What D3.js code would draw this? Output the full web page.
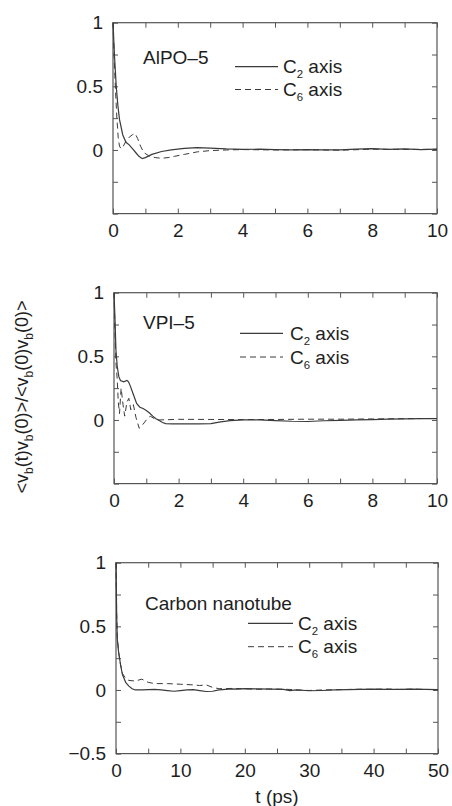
<!DOCTYPE html>
<html>
<head>
<meta charset="utf-8">
<script src="https://cdn.jsdelivr.net/npm/d3@7"></script>
<style>
  html, body { margin: 0; padding: 0; background: #fff; }
  svg { display: block; }
  text { font-family: "Liberation Sans", Arial, Helvetica, sans-serif; fill: #1e1e1e; }
</style>
</head>
<body>
<svg id="chart" width="452" height="806"></svg>
<script>
// ---- Velocity autocorrelation data (normalised), two orientations per host ----
// AlPO-5, t in ps
const alpoC2T = [0, 0.05, 0.1, 0.15, 0.2, 0.3, 0.4, 0.5, 0.6, 0.7, 0.8, 0.9, 1.0, 1.2, 1.5, 1.8, 2.2, 2.6, 3.0, 3.5, 4.0, 4.5, 5.0, 5.5, 6.0, 6.5, 7.0, 7.5, 8.0, 8.5, 9.0, 9.5, 10];
const alpoC2V = [1.0, 0.72, 0.5, 0.35, 0.24, 0.12, 0.06, 0.04, 0.01, -0.02, -0.05, -0.068, -0.06, -0.035, -0.012, 0.0, 0.012, 0.018, 0.015, 0.008, 0.004, 0.006, 0.002, 0.0, 0.003, 0.001, 0.0, 0.006, 0.01, 0.005, 0.008, 0.003, 0.006];
const alpoC6T = [0, 0.04, 0.08, 0.12, 0.16, 0.2, 0.25, 0.32, 0.4, 0.5, 0.6, 0.68, 0.76, 0.85, 0.95, 1.1, 1.3, 1.5, 1.7, 1.9, 2.2, 2.6, 3.0, 3.5, 4.0, 5.0, 6.0, 7.0, 8.0, 9.0, 10];
const alpoC6V = [1.0, 0.7, 0.45, 0.25, 0.1, 0.03, 0.01, 0.03, 0.07, 0.1, 0.12, 0.13, 0.09, 0.03, -0.02, -0.045, -0.06, -0.065, -0.06, -0.05, -0.035, -0.015, -0.005, 0.0, 0.003, 0.0, 0.002, -0.002, 0.006, 0.004, 0.005];

// VPI-5, t in ps
const vpiC2T = [0, 0.03, 0.06, 0.1, 0.15, 0.2, 0.3, 0.4, 0.45, 0.5, 0.6, 0.7, 0.8, 0.9, 1.0, 1.1, 1.2, 1.3, 1.4, 1.5, 1.6, 1.8, 2.2, 2.6, 3.0, 3.3, 3.6, 4.0, 4.5, 5.0, 5.5, 6.0, 6.5, 7.0, 7.5, 8.0, 8.5, 9.0, 9.5, 10];
const vpiC2V = [1.0, 0.8, 0.55, 0.42, 0.34, 0.31, 0.3, 0.31, 0.3, 0.27, 0.2, 0.13, 0.1, 0.09, 0.075, 0.055, 0.03, 0.01, -0.005, -0.02, -0.028, -0.03, -0.03, -0.03, -0.028, -0.015, -0.005, 0.0, 0.0, -0.005, -0.01, -0.012, -0.006, -0.003, 0.0, 0.003, 0.006, 0.008, 0.01, 0.01];
const vpiC6T = [0, 0.03, 0.06, 0.1, 0.13, 0.17, 0.22, 0.28, 0.33, 0.4, 0.46, 0.52, 0.6, 0.68, 0.78, 0.88, 1.0, 1.12, 1.25, 1.4, 2.0, 3.0, 4.0, 5.0, 6.0, 7.0, 8.0, 9.0, 10];
const vpiC6V = [1.0, 0.7, 0.45, 0.32, 0.15, 0.05, 0.25, 0.12, 0.03, 0.14, 0.17, 0.08, 0.12, 0.02, -0.065, -0.04, 0.0, 0.03, 0.01, 0.0, 0.005, 0.004, 0.003, 0.004, 0.006, 0.006, 0.008, 0.01, 0.012];

// Carbon nanotube, t in ps
const cntC2T = [0, 0.1, 0.2, 0.4, 0.7, 1.0, 1.5, 2, 2.5, 3, 4, 5, 6, 7, 8, 9, 10, 11, 12, 13, 14, 15, 16, 17, 18, 19, 20, 22, 24, 26, 27, 28, 30, 32, 34, 36, 38, 40, 42, 44, 46, 48, 50];
const cntC2V = [1.0, 0.6, 0.4, 0.3, 0.2, 0.12, 0.06, 0.03, 0.01, 0.0, 0.0, 0.003, 0.005, 0.0, -0.005, -0.01, -0.005, 0.0, 0.003, -0.005, -0.012, -0.01, 0.0, 0.005, 0.008, 0.006, 0.01, 0.008, 0.006, 0.004, -0.005, 0.0, -0.006, -0.004, 0.0, 0.002, 0.004, 0.006, 0.005, 0.004, 0.006, 0.004, 0.003];
const cntC6T = [0, 0.1, 0.2, 0.4, 0.7, 1.0, 1.5, 2, 3, 4, 5, 6, 8, 10, 12, 13, 14, 15, 16, 18, 20, 22, 24, 26, 27, 28, 30, 32, 34, 36, 38, 40, 42, 44, 46, 48, 50];
const cntC6V = [1.0, 0.6, 0.42, 0.3, 0.2, 0.13, 0.09, 0.075, 0.07, 0.085, 0.06, 0.05, 0.05, 0.045, 0.04, 0.035, 0.04, 0.02, 0.01, 0.012, 0.01, 0.005, 0.008, 0.006, 0.004, 0.0, -0.004, 0.0, 0.002, 0.004, 0.006, 0.005, 0.008, 0.004, 0.007, 0.004, 0.003];

// Axis ticks
const yTicks = [-0.5, -0.25, 0, 0.25, 0.5, 0.75, 1];
const yLabelsUpper = [0, 0.5, 1];
const yLabelsLower = [-0.5, 0, 0.5, 1];
const xTicksShort = [0, 1, 2, 3, 4, 5, 6, 7, 8, 9, 10];
const xLabelsShort = [0, 2, 4, 6, 8, 10];
const xTicksLong = [0, 5, 10, 15, 20, 25, 30, 35, 40, 45, 50];
const xLabelsLong = [0, 10, 20, 30, 40, 50];

const panelNames = ["AlPO\u20135", "VPI\u20135", "Carbon nanotube"];
const legendNames = ["C2", "C6"];

// ---- layout ----
const panels = [
  { name: panelNames[0], x0: 113, x1: 437, y0: 22.7, y1: 213.6, xMax: 10,
    xTicks: xTicksShort, xLabels: xLabelsShort, yLabels: yLabelsUpper,
    c2: [alpoC2T, alpoC2V], c6: [alpoC6T, alpoC6V],
    title: [143, 64], legend: [235, 278, 66.7, 89.5, 283] },
  { name: panelNames[1], x0: 114, x1: 437, y0: 292.7, y1: 483.6, xMax: 10,
    xTicks: xTicksShort, xLabels: xLabelsShort, yLabels: yLabelsUpper,
    c2: [vpiC2T, vpiC2V], c6: [vpiC6T, vpiC6V],
    title: [143, 328.5], legend: [240, 283, 333.3, 357, 290] },
  { name: panelNames[2], x0: 116, x1: 438, y0: 562.7, y1: 753.6, xMax: 50,
    xTicks: xTicksLong, xLabels: xLabelsLong, yLabels: yLabelsLower,
    c2: [cntC2T, cntC2V], c6: [cntC6T, cntC6V],
    title: [145, 610], legend: [248, 293, 623.3, 646.7, 298] }
];

const svg = d3.select("#chart");
const FS = 19;
const lineColor = "#3a3a3a";
const frameColor = "#555";
const fmtY = d => d < 0 ? "\u2212" + Math.abs(d) : String(d);

panels.forEach(p => {
  const x = d3.scaleLinear().domain([0, p.xMax]).range([p.x0, p.x1]);
  const y = d3.scaleLinear().domain([-0.5, 1]).range([p.y1, p.y0]);
  const g = svg.append("g");

  // bottom axis with labels, ticks inward
  const ax = g.append("g").attr("transform", `translate(0,${p.y1})`)
    .call(d3.axisBottom(x).tickValues(p.xTicks).tickSize(-5).tickPadding(10)
      .tickFormat(d => p.xLabels.includes(d) ? d : ""));
  const at = g.append("g").attr("transform", `translate(0,${p.y0})`)
    .call(d3.axisTop(x).tickValues(p.xTicks).tickSize(-5).tickFormat(""));
  const ay = g.append("g").attr("transform", `translate(${p.x0},0)`)
    .call(d3.axisLeft(y).tickValues(yTicks).tickSize(-5).tickPadding(10)
      .tickFormat(d => p.yLabels.includes(d) ? fmtY(d) : ""));
  const ar = g.append("g").attr("transform", `translate(${p.x1},0)`)
    .call(d3.axisRight(y).tickValues(yTicks).tickSize(-5).tickFormat(""));

  [ax, at, ay, ar].forEach(a => {
    a.select(".domain").remove();
    a.selectAll("line").attr("stroke", frameColor).attr("stroke-width", 1);
    a.selectAll("text").attr("font-size", FS).attr("fill", "#222")
      .attr("font-family", "Liberation Sans, Arial, sans-serif");
  });

  // frame
  g.append("rect").attr("x", p.x0).attr("y", p.y0)
    .attr("width", p.x1 - p.x0).attr("height", p.y1 - p.y0)
    .attr("fill", "none").attr("stroke", frameColor).attr("stroke-width", 1.2);

  const line = d3.line().x(d => x(d[0])).y(d => y(d[1]));
  const c2 = p.c2[0].map((t, i) => [t, p.c2[1][i]]);
  const c6 = p.c6[0].map((t, i) => [t, p.c6[1][i]]);

  g.append("path").datum(c6).attr("d", line).attr("fill", "none")
    .attr("stroke", lineColor).attr("stroke-width", 1).attr("stroke-dasharray", "6,4");
  g.append("path").datum(c2).attr("d", line).attr("fill", "none")
    .attr("stroke", lineColor).attr("stroke-width", 1.2);

  // panel title
  g.append("text").attr("x", p.title[0]).attr("y", p.title[1])
    .attr("font-size", FS).text(p.name);

  // legend
  const [lx0, lx1, ly2, ly6, tx] = p.legend;
  g.append("line").attr("x1", lx0).attr("x2", lx1).attr("y1", ly2).attr("y2", ly2)
    .attr("stroke", lineColor).attr("stroke-width", 1.2);
  g.append("line").attr("x1", lx0).attr("x2", lx1).attr("y1", ly6).attr("y2", ly6)
    .attr("stroke", lineColor).attr("stroke-width", 1).attr("stroke-dasharray", "6,4");
  [[ly2, legendNames[0]], [ly6, legendNames[1]]].forEach(([ly, nm]) => {
    const t = g.append("text").attr("x", tx).attr("y", ly + 6.5).attr("font-size", FS);
    t.append("tspan").text(nm[0]);
    t.append("tspan").attr("font-size", FS * 0.6).attr("dy", 5).text(nm.slice(1));
    t.append("tspan").attr("dy", -5).text(" axis");
  });
});

// x axis title
svg.append("text").attr("x", 277).attr("y", 803).attr("text-anchor", "middle")
  .attr("font-size", FS).text("t (ps)");

// y axis title, rotated
const yl = svg.append("text")
  .attr("transform", "translate(28,397) rotate(-90)")
  .attr("text-anchor", "middle").attr("font-size", 18);
const yParts = [["<v", false], ["b", true], ["(t)v", false], ["b", true], ["(0)>/<v", false],
                ["b", true], ["(0)v", false], ["b", true], ["(0)>", false]];
yParts.forEach(([s, sub], i) => {
  const prevSub = i > 0 && yParts[i - 1][1];
  const ts = yl.append("tspan").text(s);
  if (sub) ts.attr("font-size", 12).attr("dy", 5);
  else if (prevSub) ts.attr("dy", -5);
});
</script>
</body>
</html>
